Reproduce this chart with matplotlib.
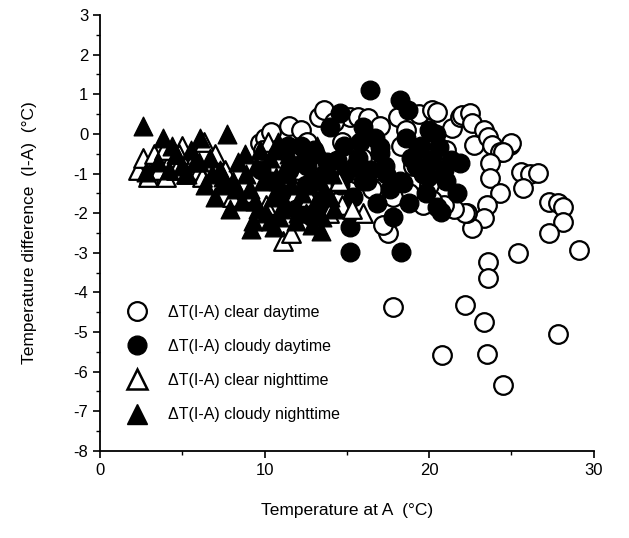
import matplotlib.pyplot as plt
from matplotlib.ticker import MultipleLocator
from matplotlib.lines import Line2D

plt.rcParams['font.family'] = ['Liberation Sans', 'DejaVu Sans']
plt.rcParams['axes.unicode_minus'] = False

# clear daytime (open circles)
clear_day_x = [9.7, 10.0, 10.4, 9.9, 11.1, 11.5, 12.2, 13.3, 13.6, 14.7, 15.2, 15.7, 16.3,
               17.0, 18.1, 18.6, 19.4, 20.2, 20.5, 21.4, 21.9, 22.0, 22.5, 22.6, 23.3,
               23.5, 22.7, 23.6, 23.8, 24.9, 25.0, 24.3, 24.5, 23.7, 23.7, 25.6, 26.1,
               26.6, 25.7, 24.3, 23.5, 27.3, 27.8, 28.1, 28.1, 27.3, 23.3, 22.6, 22.3,
               22.2, 21.5, 20.9, 20.2, 19.6, 18.8, 17.8, 17.5, 15.6, 16.5, 17.2, 15.9,
               25.4, 29.1, 23.6, 23.6, 17.8, 22.2, 23.3, 27.8, 20.8, 23.5, 24.5,
               12.6, 14.2, 16.9, 19.0, 21.0, 20.0, 18.3, 14.0, 12.0, 11.8]
clear_day_y = [-0.23, -0.1, 0.05, -0.4, -0.4, 0.2, 0.1, 0.42, 0.6, -0.2, 0.42, 0.42, 0.4,
               0.2, 0.42, 0.1, 0.5, 0.6, 0.55, 0.15, 0.42, 0.47, 0.52, 0.27, 0.1,
               -0.16, -0.28, -0.08, -0.28, -0.28, -0.23, -0.46, -0.46, -0.74, -1.12, -0.96, -1.0,
               -0.99, -1.37, -1.5, -1.8, -1.72, -1.75, -1.85, -2.23, -2.5, -2.13, -2.38, -2.0,
               -2.0, -1.9, -1.8, -1.67, -1.8, -1.5, -1.6, -2.5, -1.0, -1.4, -2.3, -0.6,
               -3.0, -2.93, -3.24, -3.64, -4.37, -4.33, -4.75, -5.05, -5.59, -5.56, -6.34,
               -0.2, 0.3, -0.9, -0.8, -0.4, -1.3, -0.3, -1.3, -0.9, -1.6]

# cloudy daytime (filled circles)
cloudy_day_x = [16.4, 18.2, 18.7, 14.6, 18.6, 16.0, 15.8, 17.0, 14.4, 16.4, 18.2, 19.6,
                20.2, 20.6, 20.0, 16.8, 17.8, 15.2, 18.8, 20.5, 15.2, 18.3, 20.4, 21.7,
                20.7, 21.3, 21.9, 12.2, 11.5, 13.0, 13.6, 12.5, 10.8, 9.8, 11.0, 13.3,
                14.0, 13.0, 17.0, 18.4, 15.4, 19.2, 19.9, 21.0, 16.2, 17.4, 14.9, 12.9,
                11.9, 10.4, 15.7, 19.3, 20.9, 17.6, 14.8, 15.5, 16.7, 17.3, 18.9, 19.5,
                13.8, 14.6, 12.6, 11.4, 16.0, 19.8]
cloudy_day_y = [1.1, 0.85, 0.6, 0.53, -0.1, 0.17, -0.2, -0.48, -0.66, -0.91, -1.2, -1.0,
                -0.66, -0.33, 0.1, -1.75, -2.1, -2.35, -1.75, -1.85, -2.98, -2.98, 0.0, -1.5,
                -1.97, -0.66, -0.74, -0.3, -0.9, -0.5, -1.0, -1.3, -0.4, -0.9, -1.5, -1.8,
                0.17, -0.4, -0.33, -1.25, -1.6, -0.8, -1.1, -1.2, -1.2, -1.0, -1.0, -2.1,
                -1.9, -1.2, -0.6, -0.4, -0.9, -1.4, -0.3, -0.8, -0.1, -0.8, -0.6, -0.3,
                -0.7, -1.3, -0.8, -0.3, -1.2, -1.5]

# clear nighttime (open triangles)
clear_night_x = [2.3, 2.6, 3.0, 3.3, 3.6, 4.0, 4.3, 4.6, 5.0, 5.2, 5.6, 6.0, 6.3, 6.2,
                 7.0, 7.6, 8.0, 9.0, 10.2, 11.1, 11.6, 10.1, 12.7, 13.9, 14.7, 16.0,
                 15.3, 14.5, 3.9, 4.8, 2.9]
clear_night_y = [-0.9, -0.6, -1.0, -0.5, -0.9, -1.1, -0.6, -0.9, -0.3, -1.0, -0.7, -0.9,
                 -0.2, -1.1, -0.5, -0.9, -1.6, -1.5, -0.2, -2.7, -2.5, -1.8, -1.6, -2.0,
                 -1.8, -2.0, -1.9, -1.2, -0.4, -0.5, -1.1]

# cloudy nighttime (filled triangles)
cloudy_night_x = [2.6, 2.8, 3.5, 3.8, 4.2, 4.6, 5.3, 5.5, 6.1, 6.4, 6.7, 7.0, 7.3, 7.7,
                  7.9, 8.1, 8.4, 8.6, 8.9, 9.1, 9.3, 9.5, 9.6, 9.9, 10.1, 10.3, 10.5,
                  10.7, 10.9, 11.2, 11.3, 11.6, 11.9, 12.1, 12.3, 12.5, 12.8, 12.9, 13.1,
                  13.3, 13.5, 13.7, 14.0, 14.2, 10.6, 9.2, 13.4, 8.3, 6.0, 7.5,
                  8.8, 9.7, 10.8, 11.5, 12.4, 13.2, 9.4, 10.3, 11.0, 12.0, 13.0, 13.6,
                  14.1, 11.4, 12.7, 7.4, 6.8, 5.8, 5.0, 4.4]
cloudy_night_y = [0.2, -0.95, -0.7, -0.1, -0.9, -0.5, -1.0, -0.4, -0.1, -1.3, -0.6, -1.6,
                  -0.9, 0.0, -1.9, -1.2, -0.7, -1.7, -1.0, -1.4, -2.2, -0.8, -1.9, -1.2,
                  -2.0, -0.6, -1.6, -1.1, -2.1, -0.9, -1.8, -1.3, -2.2, -0.7, -1.5, -2.0,
                  -1.0, -2.3, -1.7, -1.2, -2.1, -0.8, -1.6, -1.9, -2.35, -2.4, -2.45, -1.4,
                  -0.7, -1.1, -0.5, -0.4, -0.2, -0.5, -0.4, -0.3, -1.7, -2.2, -1.9, -2.0,
                  -2.0, -1.4, -1.0, -1.0, -1.3, -1.3, -1.0, -0.7, -0.8, -0.3]

labels = ['\u0394T(I-A) clear daytime', '\u0394T(I-A) cloudy daytime',
          '\u0394T(I-A) clear nighttime', '\u0394T(I-A) cloudy nighttime']

fig = plt.figure(figsize=(6.29, 5.38), dpi=100)
ax = fig.add_axes([0.159, 0.162, 0.785, 0.81])

ax.scatter(clear_day_x, clear_day_y, s=180, marker='o', facecolors='white',
           edgecolors='black', linewidths=1.6, zorder=2)
ax.scatter(cloudy_day_x, cloudy_day_y, s=180, marker='o', facecolors='black',
           edgecolors='black', linewidths=1.0, zorder=3)
ax.scatter(clear_night_x, clear_night_y, s=180, marker='^', facecolors='white',
           edgecolors='black', linewidths=1.6, zorder=3)
ax.scatter(cloudy_night_x, cloudy_night_y, s=180, marker='^', facecolors='black',
           edgecolors='black', linewidths=1.0, zorder=4)

handles = [
    Line2D([], [], ls='none', marker='o', ms=13.5, mfc='white', mec='black', mew=1.6),
    Line2D([], [], ls='none', marker='o', ms=13.5, mfc='black', mec='black'),
    Line2D([], [], ls='none', marker='^', ms=14, mfc='white', mec='black', mew=1.8),
    Line2D([], [], ls='none', marker='^', ms=14, mfc='black', mec='black'),
]
ax.legend(handles, labels, loc='upper left', bbox_to_anchor=(0.03, 0.35),
          frameon=False, fontsize=11.5, handletextpad=0.9, labelspacing=1.2,
          borderaxespad=0)

ax.set_xlim(0, 30)
ax.set_ylim(-8, 3)
ax.set_xticks([0, 10, 20, 30])
ax.set_yticks(range(-8, 4))
ax.xaxis.set_minor_locator(MultipleLocator(5))
ax.yaxis.set_minor_locator(MultipleLocator(0.5))
ax.tick_params(which='major', length=5, width=1.2, labelsize=12, direction='out')
ax.tick_params(which='minor', length=3, width=1.0, direction='out')
ax.spines['top'].set_visible(False)
ax.spines['right'].set_visible(False)
ax.spines['left'].set_linewidth(1.3)
ax.spines['bottom'].set_linewidth(1.3)

ax.set_xlabel('Temperature at A  (\u00b0C)', fontsize=12.5, labelpad=18)
ax.set_ylabel('Temperature difference  (I-A)  (\u00b0C)', fontsize=12.5, labelpad=26)

fig.savefig('out.png', dpi=100)
